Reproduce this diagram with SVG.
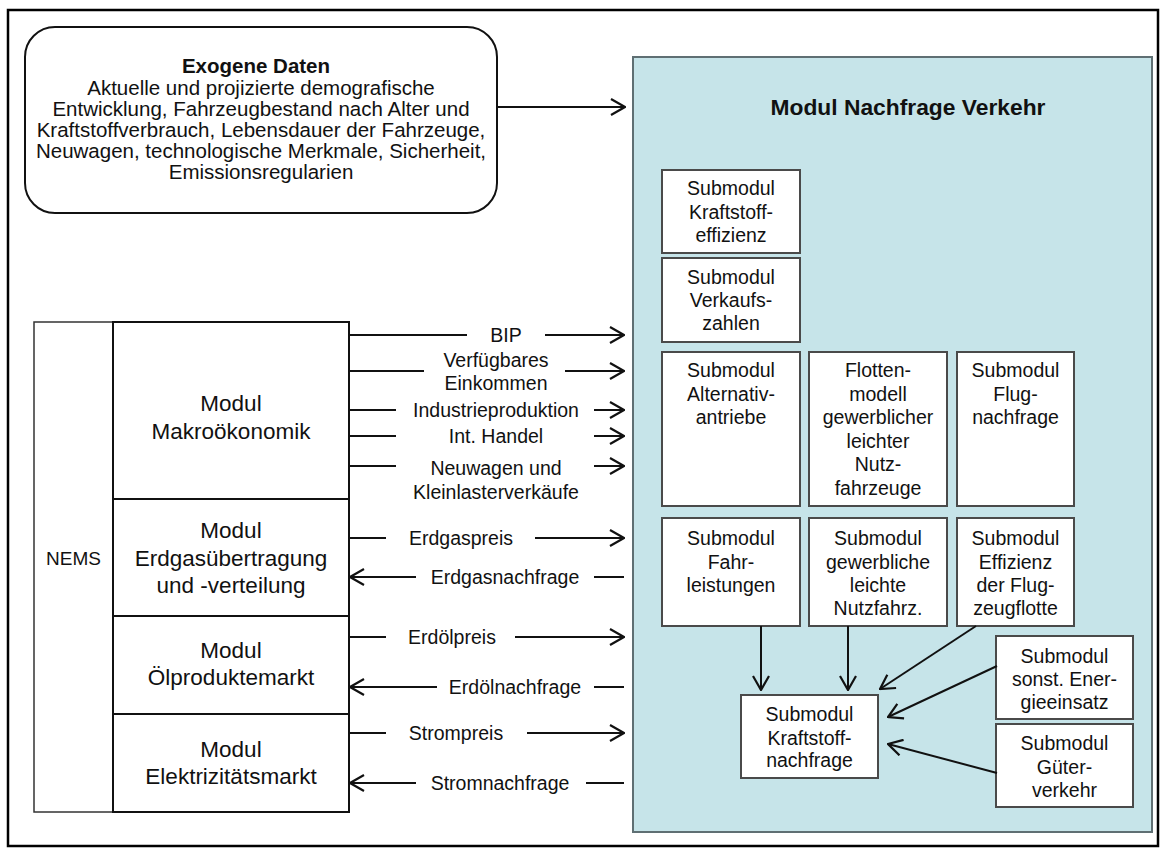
<svg xmlns="http://www.w3.org/2000/svg" width="1160" height="848" viewBox="0 0 1160 848">
  <style>
    text { font-family: "Liberation Sans", Arial, sans-serif; fill: #111; text-anchor: middle; dominant-baseline: central; }
    .sub { font-size: 19.5px; }
    .mod { font-size: 22.5px; }
    .lbl { font-size: 19.5px; }
    .exo { font-size: 20.5px; }
    .bold { font-weight: bold; }
    .subbox { fill: #fff; stroke: #4a4a4a; stroke-width: 2; }
    .modbox { fill: #fff; stroke: #111; stroke-width: 2; }
    .conn { stroke: #111; stroke-width: 2; fill: none; }
  </style>
  <defs>
    <marker id="open" viewBox="0 0 16 18" refX="15" refY="9" markerWidth="16" markerHeight="18" markerUnits="userSpaceOnUse" orient="auto">
      <path d="M1,1 L15,9 L1,17" fill="none" stroke="#111" stroke-width="2.2"/>
    </marker>
  </defs>

  <!-- page frame -->
  <rect x="8" y="10" width="1150" height="836" fill="#fff" stroke="#000" stroke-width="2.5"/>

  <!-- exogenous input data -->
  <g id="exogene">
    <rect x="25" y="27" width="472" height="186" rx="30" ry="30" fill="#fff" stroke="#111" stroke-width="2"/>
    <text class="exo bold" x="256" y="65">Exogene Daten</text>
    <text class="exo" x="261" y="87">Aktuelle und projizierte demografische</text>
    <text class="exo" x="261" y="108">Entwicklung, Fahrzeugbestand nach Alter und</text>
    <text class="exo" x="261" y="129">Kraftstoffverbrauch, Lebensdauer der Fahrzeuge,</text>
    <text class="exo" x="261" y="150">Neuwagen, technologische Merkmale, Sicherheit,</text>
    <text class="exo" x="261" y="171">Emissionsregularien</text>
  </g>

  <!-- transportation demand module -->
  <g id="nachfrage-verkehr">
    <rect x="633" y="57" width="519" height="775" fill="#c6e4e9" stroke="#5f6f73" stroke-width="2"/>
    <text class="bold" x="908" y="107" style="font-size:22.8px">Modul Nachfrage Verkehr</text>
  </g>

  <g id="sub-kraftstoffeffizienz">
    <rect class="subbox" x="662" y="170" width="138" height="83"/>
    <text class="sub" x="731" y="188">Submodul</text>
    <text class="sub" x="731" y="212">Kraftstoff-</text>
    <text class="sub" x="731" y="235">effizienz</text>
  </g>
  <g id="sub-verkaufszahlen">
    <rect class="subbox" x="662" y="258" width="138" height="84"/>
    <text class="sub" x="731" y="277">Submodul</text>
    <text class="sub" x="731" y="300">Verkaufs-</text>
    <text class="sub" x="731" y="323">zahlen</text>
  </g>
  <g id="sub-alternativantriebe">
    <rect class="subbox" x="662" y="352" width="138" height="154"/>
    <text class="sub" x="731" y="370">Submodul</text>
    <text class="sub" x="731" y="394">Alternativ-</text>
    <text class="sub" x="731" y="417">antriebe</text>
  </g>
  <g id="sub-flottenmodell">
    <rect class="subbox" x="809" y="352" width="138" height="154"/>
    <text class="sub" x="878" y="370">Flotten-</text>
    <text class="sub" x="878" y="394">modell</text>
    <text class="sub" x="878" y="417">gewerblicher</text>
    <text class="sub" x="878" y="441">leichter</text>
    <text class="sub" x="878" y="464">Nutz-</text>
    <text class="sub" x="878" y="488">fahrzeuge</text>
  </g>
  <g id="sub-flugnachfrage">
    <rect class="subbox" x="957" y="352" width="117" height="154"/>
    <text class="sub" x="1015.5" y="370">Submodul</text>
    <text class="sub" x="1015.5" y="394">Flug-</text>
    <text class="sub" x="1015.5" y="417">nachfrage</text>
  </g>
  <g id="sub-fahrleistungen">
    <rect class="subbox" x="662" y="518" width="138" height="108"/>
    <text class="sub" x="731" y="538">Submodul</text>
    <text class="sub" x="731" y="562">Fahr-</text>
    <text class="sub" x="731" y="585">leistungen</text>
  </g>
  <g id="sub-nutzfahrzeuge">
    <rect class="subbox" x="809" y="518" width="138" height="108"/>
    <text class="sub" x="878" y="538">Submodul</text>
    <text class="sub" x="878" y="562">gewerbliche</text>
    <text class="sub" x="878" y="585">leichte</text>
    <text class="sub" x="878" y="608">Nutzfahrz.</text>
  </g>
  <g id="sub-flugzeugflotte">
    <rect class="subbox" x="957" y="518" width="117" height="108"/>
    <text class="sub" x="1015.5" y="538">Submodul</text>
    <text class="sub" x="1015.5" y="562">Effizienz</text>
    <text class="sub" x="1015.5" y="585">der Flug-</text>
    <text class="sub" x="1015.5" y="608">zeugflotte</text>
  </g>
  <g id="sub-energieeinsatz">
    <rect class="subbox" x="996" y="636" width="137" height="83"/>
    <text class="sub" x="1064.5" y="656">Submodul</text>
    <text class="sub" x="1064.5" y="679">sonst. Ener-</text>
    <text class="sub" x="1064.5" y="702">gieeinsatz</text>
  </g>
  <g id="sub-gueterverkehr">
    <rect class="subbox" x="996" y="724" width="137" height="83"/>
    <text class="sub" x="1064.5" y="743">Submodul</text>
    <text class="sub" x="1064.5" y="767">Güter-</text>
    <text class="sub" x="1064.5" y="790">verkehr</text>
  </g>
  <g id="sub-kraftstoffnachfrage">
    <rect class="subbox" x="741" y="695" width="137" height="83"/>
    <text class="sub" x="809.5" y="714">Submodul</text>
    <text class="sub" x="809.5" y="738">Kraftstoff-</text>
    <text class="sub" x="809.5" y="760">nachfrage</text>
  </g>

  <!-- NEMS block with its modules -->
  <g id="nems">
    <rect x="34" y="322" width="79" height="490" fill="#fff" stroke="#333" stroke-width="1.5"/>
    <text style="font-size:19px" x="73.5" y="558">NEMS</text>
  </g>
  <g id="mod-makro">
    <rect class="modbox" x="113" y="322" width="236" height="177"/>
    <text class="mod" x="231" y="403">Modul</text>
    <text class="mod" x="231" y="431">Makroökonomik</text>
  </g>
  <g id="mod-erdgas">
    <rect class="modbox" x="113" y="499" width="236" height="117"/>
    <text class="mod" x="231" y="530">Modul</text>
    <text class="mod" x="231" y="558">Erdgasübertragung</text>
    <text class="mod" x="231" y="585">und -verteilung</text>
  </g>
  <g id="mod-oel">
    <rect class="modbox" x="113" y="616" width="236" height="98"/>
    <text class="mod" x="231" y="650">Modul</text>
    <text class="mod" x="231" y="677">Ölproduktemarkt</text>
  </g>
  <g id="mod-strom">
    <rect class="modbox" x="113" y="714" width="236" height="98"/>
    <text class="mod" x="231" y="749">Modul</text>
    <text class="mod" x="231" y="776">Elektrizitätsmarkt</text>
  </g>

  <!-- connectors -->
  <g id="connectors" class="conn">
    <line x1="497" y1="107" x2="625" y2="107" marker-end="url(#open)"/>

    <line x1="349" y1="335" x2="467" y2="335"/>
    <line x1="545" y1="335" x2="624" y2="335" marker-end="url(#open)"/>
    <line x1="349" y1="371" x2="424" y2="371"/>
    <line x1="565" y1="371" x2="624" y2="371" marker-end="url(#open)"/>
    <line x1="349" y1="410" x2="396" y2="410"/>
    <line x1="594" y1="410" x2="624" y2="410" marker-end="url(#open)"/>
    <line x1="349" y1="436" x2="396" y2="436"/>
    <line x1="594" y1="436" x2="624" y2="436" marker-end="url(#open)"/>
    <line x1="349" y1="466" x2="396" y2="466"/>
    <line x1="594" y1="466" x2="624" y2="466" marker-end="url(#open)"/>

    <line x1="349" y1="538" x2="386" y2="538"/>
    <line x1="535" y1="538" x2="624" y2="538" marker-end="url(#open)"/>
    <line x1="416" y1="577" x2="350" y2="577" marker-end="url(#open)"/>
    <line x1="594" y1="577" x2="624" y2="577"/>

    <line x1="349" y1="637" x2="386" y2="637"/>
    <line x1="515" y1="637" x2="624" y2="637" marker-end="url(#open)"/>
    <line x1="437" y1="687" x2="350" y2="687" marker-end="url(#open)"/>
    <line x1="594" y1="687" x2="624" y2="687"/>

    <line x1="349" y1="733" x2="386" y2="733"/>
    <line x1="527" y1="733" x2="624" y2="733" marker-end="url(#open)"/>
    <line x1="416" y1="783" x2="350" y2="783" marker-end="url(#open)"/>
    <line x1="586" y1="783" x2="624" y2="783"/>

    <line x1="761" y1="626" x2="761" y2="690" marker-end="url(#open)"/>
    <line x1="848" y1="626" x2="848" y2="690" marker-end="url(#open)"/>
    <line x1="976" y1="626" x2="880" y2="689" marker-end="url(#open)"/>
    <line x1="997" y1="666" x2="888" y2="717" marker-end="url(#open)"/>
    <line x1="997" y1="773" x2="888" y2="744" marker-end="url(#open)"/>
  </g>

  <!-- connector labels -->
  <g id="connector-labels">
    <text class="lbl" x="506" y="335">BIP</text>
    <text class="lbl" x="496" y="360">Verfügbares</text>
    <text class="lbl" x="496" y="383">Einkommen</text>
    <text class="lbl" x="496" y="410">Industrieproduktion</text>
    <text class="lbl" x="496" y="436">Int. Handel</text>
    <text class="lbl" x="496" y="468">Neuwagen und</text>
    <text class="lbl" x="496" y="492">Kleinlasterverkäufe</text>
    <text class="lbl" x="461" y="538">Erdgaspreis</text>
    <text class="lbl" x="505" y="577">Erdgasnachfrage</text>
    <text class="lbl" x="452" y="637">Erdölpreis</text>
    <text class="lbl" x="515" y="687">Erdölnachfrage</text>
    <text class="lbl" x="456" y="733">Strompreis</text>
    <text class="lbl" x="500" y="783">Stromnachfrage</text>
  </g>
</svg>
